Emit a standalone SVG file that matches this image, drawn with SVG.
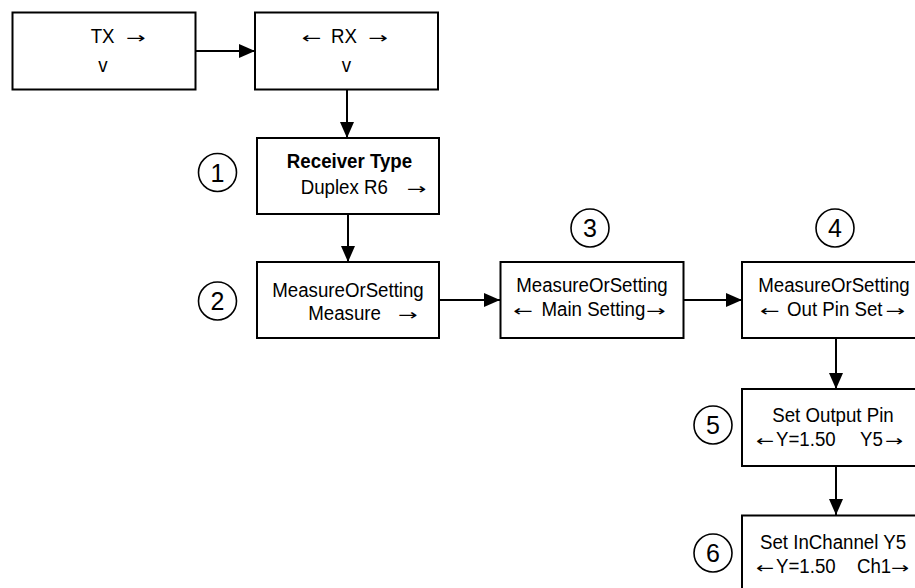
<svg xmlns="http://www.w3.org/2000/svg" width="915" height="588" viewBox="0 0 915 588">
<style>
  .box { fill: #fff; stroke: #000; stroke-width: 2; }
  .t { font-family: "Liberation Sans", Arial, sans-serif; font-size: 21px; fill: #000; }
  .b { font-weight: bold; }
  .mid { text-anchor: middle; }
  .a { font-family: "DejaVu Sans", sans-serif; font-size: 18px; fill: #000; }
  .c { fill: none; stroke: #000; stroke-width: 1.6; }
  .n { font-family: "Liberation Sans", Arial, sans-serif; font-size: 25px; fill: #000; text-anchor: middle; }
  .conn { stroke: #000; stroke-width: 2; fill: none; marker-end: url(#ah); }
</style>
<defs>
  <marker id="ah" viewBox="0 0 16 14" refX="16" refY="7" markerWidth="16" markerHeight="14" markerUnits="userSpaceOnUse" orient="auto">
    <path d="M0,0 L16,7 L0,14 Z" fill="#000"/>
  </marker>
</defs>
<rect width="915" height="588" fill="#fff"/>

<g id="connectors">
  <line class="conn" x1="196" y1="51" x2="255" y2="51"/>
  <line class="conn" x1="347" y1="90" x2="347" y2="138"/>
  <line class="conn" x1="348" y1="214" x2="348" y2="262"/>
  <line class="conn" x1="439" y1="300" x2="500" y2="300"/>
  <line class="conn" x1="683" y1="300" x2="742" y2="300"/>
  <line class="conn" x1="836" y1="338" x2="836" y2="389"/>
  <line class="conn" x1="836" y1="466" x2="836" y2="515"/>
</g>

<g id="node-tx">
  <rect class="box" x="12.5" y="12.5" width="183" height="77"/>
  <text class="t" transform="translate(90.7,43) scale(0.89,1)">TX</text>
  <text class="a" transform="translate(126,43) scale(1.3,0.85)">→</text>
  <text class="t mid" transform="translate(103,72) scale(0.89,1)">v</text>
</g>

<g id="node-rx">
  <rect class="box" x="255" y="12.5" width="183" height="77"/>
  <text class="a" transform="translate(301.7,43) scale(1.3,0.85)">←</text>
  <text class="t" transform="translate(331,43) scale(0.89,1)">RX</text>
  <text class="a" transform="translate(368.3,43) scale(1.3,0.85)">→</text>
  <text class="t mid" transform="translate(346.5,72) scale(0.89,1)">v</text>
</g>

<g id="node-receiver">
  <rect class="box" x="257" y="138" width="182" height="76"/>
  <text class="t b mid" transform="translate(349.5,168) scale(0.89,1)">Receiver Type</text>
  <text class="t" transform="translate(300.7,194) scale(0.89,1)">Duplex R6</text>
  <text class="a" transform="translate(406.7,194) scale(1.3,0.85)">→</text>
  <circle class="c" cx="217.5" cy="172.5" r="19"/>
  <text class="n" x="217.5" y="181.5">1</text>
</g>

<g id="node-measure">
  <rect class="box" x="257" y="262" width="182" height="76"/>
  <text class="t mid" transform="translate(348,296.5) scale(0.89,1)">MeasureOrSetting</text>
  <text class="t" transform="translate(308.3,320) scale(0.89,1)">Measure</text>
  <text class="a" transform="translate(398,320) scale(1.3,0.85)">→</text>
  <circle class="c" cx="217.5" cy="301" r="19"/>
  <text class="n" x="217.5" y="310">2</text>
</g>

<g id="node-mainsetting">
  <rect class="box" x="500.5" y="262" width="183" height="76"/>
  <text class="t mid" transform="translate(592,292) scale(0.89,1)">MeasureOrSetting</text>
  <text class="a" transform="translate(513.3,316) scale(1.3,0.85)">←</text>
  <text class="t" transform="translate(541.5,316) scale(0.89,1)">Main Setting</text>
  <text class="a" transform="translate(646,316) scale(1.3,0.85)">→</text>
  <circle class="c" cx="590" cy="228" r="19"/>
  <text class="n" x="590" y="237">3</text>
</g>

<g id="node-outpinset">
  <rect class="box" x="742" y="262" width="183" height="76"/>
  <text class="t mid" transform="translate(834,292) scale(0.89,1)">MeasureOrSetting</text>
  <text class="a" transform="translate(760,316) scale(1.3,0.85)">←</text>
  <text class="t" transform="translate(787,316) scale(0.89,1)">Out Pin Set</text>
  <text class="a" transform="translate(885.5,316) scale(1.3,0.85)">→</text>
  <circle class="c" cx="835" cy="228" r="19"/>
  <text class="n" x="835" y="237">4</text>
</g>

<g id="node-setoutputpin">
  <rect class="box" x="742" y="389" width="183" height="77"/>
  <text class="t mid" transform="translate(833,422) scale(0.89,1)">Set Output Pin</text>
  <text class="a" transform="translate(756,446) scale(1.2,0.85)">←</text>
  <text class="t" transform="translate(776,446) scale(0.89,1)">Y=1.50</text>
  <text class="t" transform="translate(860,446) scale(0.89,1)">Y5</text>
  <text class="a" transform="translate(885,446) scale(1.2,0.85)">→</text>
  <circle class="c" cx="713" cy="425" r="19"/>
  <text class="n" x="713" y="434">5</text>
</g>

<g id="node-setinchannel">
  <rect class="box" x="742" y="515.5" width="183" height="77"/>
  <text class="t" transform="translate(760,548.5) scale(0.89,1)">Set InChannel Y5</text>
  <text class="a" transform="translate(756,572.5) scale(1.2,0.85)">←</text>
  <text class="t" transform="translate(776,572.5) scale(0.89,1)">Y=1.50</text>
  <text class="t" transform="translate(857,572.5) scale(0.89,1)">Ch1</text>
  <text class="a" transform="translate(891,572.5) scale(1.2,0.85)">→</text>
  <circle class="c" cx="713" cy="553" r="19"/>
  <text class="n" x="713" y="562">6</text>
</g>
</svg>
